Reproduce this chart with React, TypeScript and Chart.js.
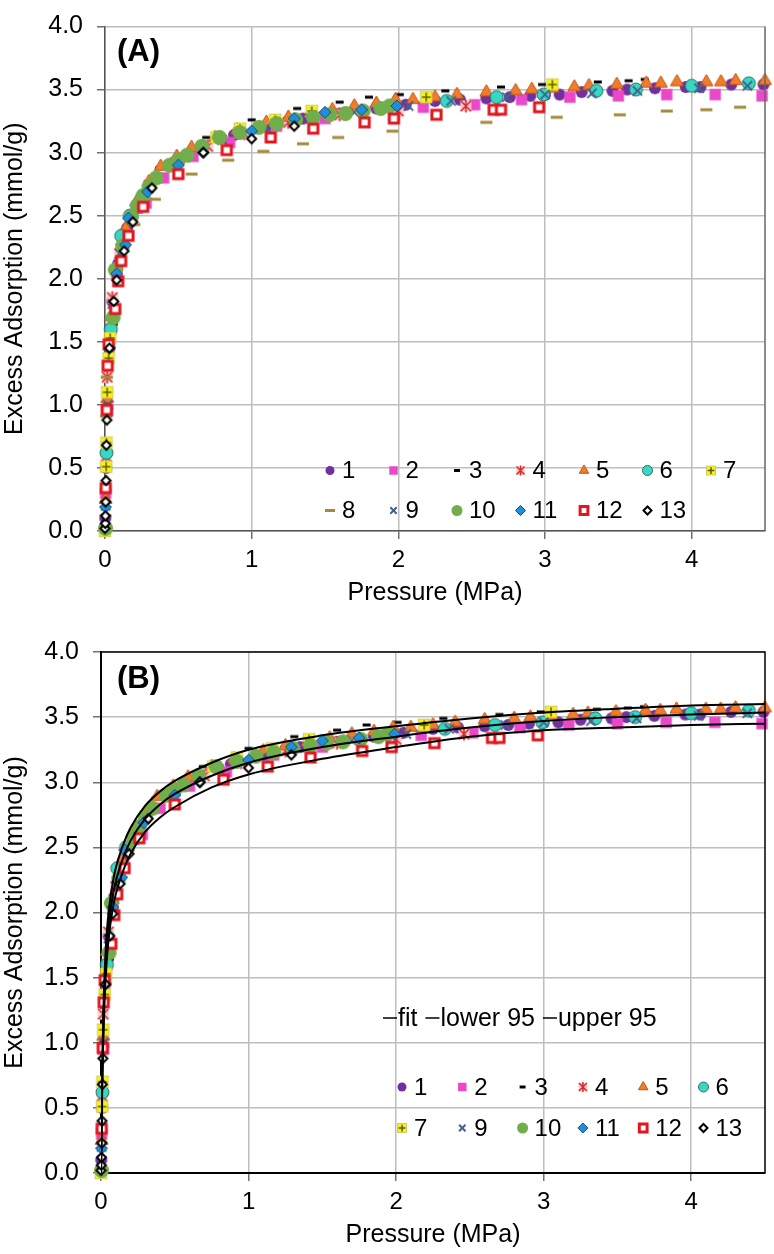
import React, { useEffect, useRef } from 'react';
import { Chart, registerables } from 'chart.js';

Chart.register(...registerables);

const FONT = '"Liberation Sans", Arial, Helvetica, sans-serif';

// ---------- data: [pressure (MPa), excess adsorption (mmol/g)] ----------
const s1: [number, number][] = [[0.002,0.1],[0.008,0.5],[0.015,0.98],[0.03,1.45],[0.05,1.82],[0.09,2.12],[0.15,2.4],[0.24,2.62],[0.36,2.8],[0.5,2.93],[0.68,3.05],[0.88,3.14],[1.1,3.21],[1.35,3.27],[1.6,3.31],[1.85,3.35],[2.05,3.38],[2.25,3.41],[2.42,3.42],[2.6,3.43],[2.76,3.44],[2.9,3.45],[3.0,3.46],[3.1,3.46],[3.25,3.48],[3.46,3.49],[3.56,3.5],[3.75,3.51],[3.96,3.52],[4.06,3.52],[4.27,3.54],[4.49,3.54]];
const s2: [number, number][] = [[0.004,0.3],[0.015,0.95],[0.04,1.6],[0.08,2.05],[0.14,2.35],[0.22,2.56],[0.28,2.6],[0.4,2.8],[0.6,2.97],[0.85,3.08],[1.17,3.21],[1.5,3.27],[1.97,3.29],[2.17,3.36],[2.52,3.38],[2.84,3.42],[3.17,3.44],[3.5,3.45],[3.83,3.46],[4.16,3.46],[4.48,3.45]];
const s3: [number, number][] = [[0.06,1.64],[0.37,2.88],[0.69,3.12],[1.0,3.26],[1.31,3.35],[1.6,3.4],[1.8,3.44],[2.01,3.46],[2.32,3.49],[2.7,3.52],[2.98,3.54],[3.36,3.56],[3.57,3.57],[3.68,3.58]];
const s4: [number, number][] = [[0.008,0.59],[0.015,1.22],[0.05,1.85],[0.1,2.2],[0.18,2.5],[0.3,2.74],[0.48,2.92],[0.7,3.05],[0.95,3.15],[1.25,3.24],[1.6,3.3],[2.0,3.33],[2.46,3.37]];
const s5: [number, number][] = [[0.004,0.25],[0.015,1.05],[0.04,1.7],[0.08,2.1],[0.14,2.4],[0.22,2.62],[0.3,2.77],[0.38,2.89],[0.49,2.97],[0.59,3.04],[0.75,3.12],[0.9,3.18],[1.1,3.24],[1.25,3.28],[1.4,3.31],[1.55,3.34],[1.7,3.37],[1.85,3.39],[1.98,3.42],[2.1,3.42],[2.25,3.44],[2.4,3.46],[2.6,3.48],[2.8,3.49],[2.91,3.5],[3.05,3.51],[3.2,3.52],[3.3,3.53],[3.49,3.54],[3.69,3.55],[3.79,3.55],[3.9,3.56],[4.1,3.56],[4.2,3.56],[4.3,3.57],[4.5,3.57]];
const s6: [number, number][] = [[0.01,0.62],[0.04,1.6],[0.11,2.34],[0.17,2.5],[2.33,3.41],[2.67,3.44],[2.99,3.46],[3.35,3.49],[3.62,3.5],[4.0,3.53],[4.39,3.55]];
const s7: [number, number][] = [[0.0,0.0],[0.008,0.51],[0.01,0.7],[0.015,1.1],[0.025,1.37],[0.035,1.53],[0.76,3.12],[0.92,3.19],[1.16,3.26],[1.41,3.33],[2.19,3.44],[3.05,3.54]];
const s8: [number, number][] = [[0.003,0.12],[0.008,0.91],[0.012,1.22],[0.2,2.43],[0.34,2.63],[0.59,2.83],[0.84,2.94],[1.08,3.01],[1.35,3.07],[1.59,3.12],[1.96,3.17],[2.6,3.24],[3.08,3.28],[3.51,3.3],[3.83,3.33],[4.1,3.34],[4.33,3.36]];
const s9: [number, number][] = [[0.005,0.2],[0.02,1.0],[0.05,1.8],[0.1,2.2],[0.2,2.55],[0.35,2.8],[0.55,2.97],[0.8,3.1],[1.1,3.2],[1.4,3.27],[1.7,3.32],[2.07,3.37],[2.36,3.41],[2.74,3.44],[3.0,3.46],[3.32,3.47],[3.63,3.49],[4.05,3.51],[4.38,3.53]];
const s10: [number, number][] = [[0.004,0.02],[0.055,1.69],[0.07,2.07],[0.12,2.26],[0.18,2.49],[0.22,2.58],[0.26,2.66],[0.3,2.73],[0.35,2.8],[0.44,2.9],[0.5,2.94],[0.56,2.98],[0.66,3.05],[0.78,3.12],[0.92,3.16],[1.05,3.2],[1.17,3.23],[1.3,3.26],[1.42,3.28],[1.53,3.3],[1.64,3.31],[1.76,3.33],[1.88,3.35],[1.94,3.37]];
const s11: [number, number][] = [[0.003,0.19],[0.03,1.45],[0.08,2.04],[0.14,2.27],[0.16,2.48],[0.29,2.69],[0.5,2.9],[0.67,3.0],[1.0,3.17],[1.29,3.27],[1.5,3.32],[1.75,3.34],[1.99,3.37]];
const s12: [number, number][] = [[0.005,0.34],[0.012,0.96],[0.018,1.31],[0.025,1.48],[0.07,1.76],[0.09,1.98],[0.11,2.14],[0.16,2.34],[0.26,2.57],[0.5,2.83],[0.83,3.02],[1.13,3.12],[1.42,3.19],[1.77,3.24],[1.97,3.27],[2.26,3.3],[2.65,3.34],[2.7,3.34],[2.96,3.36]];
const s13: [number, number][] = [[0.0,0.02],[0.002,0.06],[0.003,0.12],[0.005,0.23],[0.007,0.4],[0.009,0.68],[0.013,0.88],[0.03,1.45],[0.06,1.82],[0.08,1.99],[0.13,2.22],[0.19,2.45],[0.32,2.72],[0.67,3.0],[1.0,3.11],[1.29,3.21]];

const seriesNames = ['1','2','3','4','5','6','7','8','9','10','11','12','13'];
const seriesData = [s1,s2,s3,s4,s5,s6,s7,s8,s9,s10,s11,s12,s13];

// model fit curve with 95% bounds (panel B)
const fitPressure = [0,0.004,0.008,0.015,0.025,0.04,0.06,0.08,0.1,0.15,0.2,0.3,0.4,0.5,0.75,1,1.5,2,2.5,3,3.5,4,4.5];
const fitMid   = [0,0.38,0.7,1.1,1.45,1.75,1.98,2.13,2.24,2.42,2.55,2.72,2.83,2.91,3.05,3.15,3.27,3.35,3.42,3.47,3.5,3.52,3.535];
const fitLower = [0,0.33,0.63,1.0,1.35,1.65,1.88,2.03,2.14,2.32,2.45,2.62,2.73,2.81,2.96,3.06,3.18,3.27,3.35,3.4,3.42,3.44,3.45];
const fitUpper = [0,0.43,0.77,1.2,1.55,1.86,2.08,2.23,2.34,2.52,2.65,2.82,2.93,3.01,3.15,3.25,3.36,3.43,3.49,3.535,3.565,3.59,3.6];
const fitNames = ['fit','lower 95','upper 95'];

const xTickValues = [0,1,2,3,4];
const yTickValues = [0,0.5,1,1.5,2,2.5,3,3.5,4];
const xTitle = 'Pressure (MPa)';
const yTitle = 'Excess Adsorption (mmol/g)';

// ---------- marker styles ----------
type Mk = { shape: string; r: number; lr: number; fill: string; stroke: string; lw: number };
const marks: Mk[] = [
  { shape: 'circle', r: 6, lr: 4.5, fill: '#7030A0', stroke: '#7030A0', lw: 0 },
  { shape: 'rect', r: 8, lr: 6, fill: '#EA48C8', stroke: '#EA48C8', lw: 0 },
  { shape: 'line', r: 4, lr: 3, fill: '#000000', stroke: '#000000', lw: 3 },
  { shape: 'star', r: 6.5, lr: 5, fill: '#F7CACA', stroke: '#E0262A', lw: 1.5 },
  { shape: 'triangle', r: 7.5, lr: 5.5, fill: '#F47B2A', stroke: '#B95612', lw: 1 },
  { shape: 'circle', r: 6.5, lr: 5, fill: '#35D8C0', stroke: '#2C6E6A', lw: 1 },
  { shape: 'plusbox', r: 6.5, lr: 5, fill: '#F4F21E', stroke: '#5E5A10', lw: 1.5 },
  { shape: 'line', r: 6, lr: 5, fill: '#A28B3A', stroke: '#A28B3A', lw: 3 },
  { shape: 'crossRot', r: 6.5, lr: 4.5, fill: '#44608E', stroke: '#44608E', lw: 2 },
  { shape: 'circle', r: 7.5, lr: 5.5, fill: '#72AD4C', stroke: '#72AD4C', lw: 0 },
  { shape: 'rectRot', r: 6, lr: 5, fill: '#1F8FDA', stroke: '#1C4E74', lw: 1 },
  { shape: 'rect', r: 6.5, lr: 5.5, fill: '#FFFFFF', stroke: '#E2161E', lw: 3 },
  { shape: 'rectRot', r: 4.5, lr: 4, fill: '#FFFFFF', stroke: '#000000', lw: 2 },
];

function drawShape(ctx: CanvasRenderingContext2D, m: Mk, x: number, y: number, r: number) {
  ctx.save();
  ctx.lineWidth = m.lw || 1;
  ctx.strokeStyle = m.stroke;
  ctx.fillStyle = m.fill;
  ctx.beginPath();
  switch (m.shape) {
    case 'circle':
      ctx.arc(x, y, r, 0, Math.PI * 2);
      ctx.fill();
      if (m.lw) ctx.stroke();
      break;
    case 'rect': {
      const s = r * Math.SQRT1_2;
      ctx.rect(x - s, y - s, 2 * s, 2 * s);
      ctx.fill();
      if (m.lw) ctx.stroke();
      break;
    }
    case 'rectRot':
      ctx.moveTo(x, y - r); ctx.lineTo(x + r, y); ctx.lineTo(x, y + r); ctx.lineTo(x - r, y); ctx.closePath();
      ctx.fill();
      if (m.lw) ctx.stroke();
      break;
    case 'triangle':
      ctx.moveTo(x, y - r); ctx.lineTo(x + r * 0.866, y + r * 0.5); ctx.lineTo(x - r * 0.866, y + r * 0.5); ctx.closePath();
      ctx.fill();
      if (m.lw) ctx.stroke();
      break;
    case 'line':
      ctx.moveTo(x - r, y); ctx.lineTo(x + r, y);
      ctx.stroke();
      break;
    case 'crossRot': {
      const d = r * Math.SQRT1_2;
      ctx.moveTo(x - d, y - d); ctx.lineTo(x + d, y + d);
      ctx.moveTo(x + d, y - d); ctx.lineTo(x - d, y + d);
      ctx.stroke();
      break;
    }
    case 'star': {
      const s = r * 0.85;
      ctx.fillRect(x - s, y - s, 2 * s, 2 * s);
      const d = r * 0.8;
      ctx.moveTo(x - d, y - d); ctx.lineTo(x + d, y + d);
      ctx.moveTo(x + d, y - d); ctx.lineTo(x - d, y + d);
      ctx.moveTo(x, y - r); ctx.lineTo(x, y + r);
      ctx.stroke();
      break;
    }
    case 'plusbox': {
      const s = r * 0.9;
      ctx.fillRect(x - s, y - s, 2 * s, 2 * s);
      ctx.lineWidth = 0.8;
      ctx.strokeStyle = '#C8C060';
      ctx.strokeRect(x - s, y - s, 2 * s, 2 * s);
      ctx.beginPath();
      ctx.lineWidth = m.lw;
      ctx.strokeStyle = m.stroke;
      const p = s * 0.75;
      ctx.moveTo(x - p, y); ctx.lineTo(x + p, y);
      ctx.moveTo(x, y - p); ctx.lineTo(x, y + p);
      ctx.stroke();
      break;
    }
  }
  ctx.restore();
}

function makeMarkerImage(m: Mk): HTMLCanvasElement {
  const size = Math.ceil(2 * m.r + 2 * m.lw + 4);
  const c = document.createElement('canvas');
  c.width = size;
  c.height = size;
  const ctx = c.getContext('2d') as CanvasRenderingContext2D;
  drawShape(ctx, m, size / 2, size / 2, m.r);
  return c;
}

// ---------- overlay plugin: border, panel tag, legends ----------
const panelPlugin = {
  id: 'panel',
  afterDatasetsDraw(chart: any, _args: any, o: any) {
    const { ctx, chartArea: a } = chart;
    ctx.save();
    ctx.strokeStyle = o.borderColor;
    ctx.lineWidth = o.borderWidth;
    ctx.beginPath();
    if (o.fullBorder) {
      ctx.moveTo(a.left, a.top); ctx.lineTo(a.right, a.top); ctx.lineTo(a.right, a.bottom);
    } else {
      ctx.moveTo(a.right, a.top); ctx.lineTo(a.right, a.bottom);
    }
    ctx.stroke();
    ctx.fillStyle = '#000';
    ctx.font = `bold 31px ${FONT}`;
    ctx.textAlign = 'left';
    ctx.textBaseline = 'alphabetic';
    ctx.fillText(o.tag, a.left + o.tagX, a.top + o.tagY);
    ctx.font = `24px ${FONT}`;
    ctx.textBaseline = 'middle';
    o.rows.forEach((row: number[], ri: number) => {
      row.forEach((idx: number, ci: number) => {
        const x = a.left + o.legX + ci * o.colW;
        const y = a.top + o.legY + ri * o.rowH;
        drawShape(ctx, marks[idx], x, y, marks[idx].lr);
        ctx.fillStyle = '#000';
        ctx.fillText(seriesNames[idx], x + o.txtDx, y + 1);
      });
    });
    if (o.fitLegend) {
      ctx.font = `25px ${FONT}`;
      let x = a.left + o.fitX;
      const y = a.top + o.fitY;
      fitNames.forEach((n) => {
        ctx.beginPath();
        ctx.strokeStyle = '#000';
        ctx.lineWidth = 1.5;
        ctx.moveTo(x, y); ctx.lineTo(x + 14, y);
        ctx.stroke();
        x += 15;
        ctx.fillStyle = '#000';
        ctx.fillText(n, x, y + 1);
        x += ctx.measureText(n).width + 8;
      });
    }
    ctx.restore();
  },
};

function makeScales(yWidth: number, xHeight: number, axisColor: string, axisWidth: number, xTitlePad: number) {
  const grid = { color: '#BEBEBE', lineWidth: 1.5, tickLength: 8, tickColor: '#707070', tickWidth: 1.5 };
  return {
    x: {
      type: 'linear',
      min: 0,
      max: 4.5,
      afterBuildTicks: (s: any) => { s.ticks = xTickValues.map((v) => ({ value: v })); },
      afterFit: (s: any) => { s.height = xHeight; },
      grid,
      border: { color: axisColor, width: axisWidth },
      ticks: { color: '#000', font: { family: FONT, size: 24, lineHeight: 1 }, padding: 9, maxRotation: 0, autoSkip: false, callback: (v: any) => String(v) },
      title: { display: true, text: xTitle, color: '#000', font: { family: FONT, size: 25, lineHeight: 1.2 }, padding: { top: 0, bottom: xTitlePad } },
    },
    y: {
      type: 'linear',
      min: 0,
      max: 4,
      afterBuildTicks: (s: any) => { s.ticks = yTickValues.map((v) => ({ value: v })); },
      afterFit: (s: any) => { s.width = yWidth; },
      grid,
      border: { color: axisColor, width: axisWidth },
      ticks: { color: '#000', font: { family: FONT, size: 25, lineHeight: 1 }, padding: 14, autoSkip: false, callback: (v: any) => Number(v).toFixed(1) },
      title: { display: true, text: yTitle, color: '#000', font: { family: FONT, size: 25, lineHeight: 1.2 }, padding: { top: 0, bottom: 0 } },
    },
  };
}

function scatterSets(imgs: HTMLCanvasElement[], skip: number[]) {
  const out: any[] = [];
  seriesData.forEach((d, i) => {
    if (skip.includes(i)) return;
    out.push({
      label: seriesNames[i],
      data: d.map(([x, y]) => ({ x, y })),
      pointStyle: imgs[i],
      pointRadius: marks[i].r,
      showLine: false,
      clip: false,
      order: 20 - i,
    });
  });
  return out;
}

function fitSets() {
  return [fitMid, fitLower, fitUpper].map((arr, k) => ({
    label: fitNames[k],
    data: fitPressure.map((p, j) => ({ x: p, y: arr[j] })),
    showLine: true,
    pointRadius: 0,
    borderColor: '#000',
    borderWidth: 2,
    cubicInterpolationMode: 'monotone',
    fill: false,
    order: 0,
  }));
}

export default function App() {
  const refA = useRef<HTMLCanvasElement>(null);
  const refB = useRef<HTMLCanvasElement>(null);

  useEffect(() => {
    document.body.style.margin = '0';
    const imgs = marks.map(makeMarkerImage);
    const common = {
      responsive: false,
      maintainAspectRatio: false,
      animation: false,
      devicePixelRatio: 1,
      events: [],
    };
    const chartA = new Chart(refA.current as HTMLCanvasElement, {
      type: 'scatter',
      data: { datasets: scatterSets(imgs, []) },
      options: {
        ...common,
        layout: { padding: { left: 0, right: 7, top: 13, bottom: 0 } },
        scales: makeScales(105, 89, '#555555', 1.5, 12) as any,
        plugins: {
          legend: { display: false },
          tooltip: { enabled: false },
          panel: {
            borderColor: '#666666', borderWidth: 1.5, fullBorder: false,
            tag: '(A)', tagX: 12, tagY: 34,
            rows: [[0, 1, 2, 3, 4, 5, 6], [7, 8, 9, 10, 11, 12]],
            legX: 225, legY: 444, colW: 63.5, rowH: 40, txtDx: 12,
            fitLegend: false,
          },
        } as any,
      },
      plugins: [panelPlugin],
    } as any);
    const chartB = new Chart(refB.current as HTMLCanvasElement, {
      type: 'scatter',
      data: { datasets: [...scatterSets(imgs, [7]), ...fitSets()] },
      options: {
        ...common,
        layout: { padding: { left: 0, right: 7, top: 32, bottom: 0 } },
        scales: makeScales(101, 81, '#000000', 2, 4) as any,
        plugins: {
          legend: { display: false },
          tooltip: { enabled: false },
          panel: {
            borderColor: '#000000', borderWidth: 1.5, fullBorder: true,
            tag: '(B)', tagX: 16, tagY: 36,
            rows: [[0, 1, 2, 3, 4, 5], [6, 8, 9, 10, 11, 12]],
            legX: 301, legY: 435, colW: 60.3, rowH: 41, txtDx: 12,
            fitLegend: true, fitX: 282, fitY: 366,
          },
        } as any,
      },
      plugins: [panelPlugin],
    } as any);
    return () => {
      chartA.destroy();
      chartB.destroy();
    };
  }, []);

  return (
    <div style={{ width: 774 }}>
      <canvas ref={refA} width={774} height={620} style={{ display: 'block' }} />
      <canvas ref={refB} width={774} height={634} style={{ display: 'block' }} />
    </div>
  );
}
